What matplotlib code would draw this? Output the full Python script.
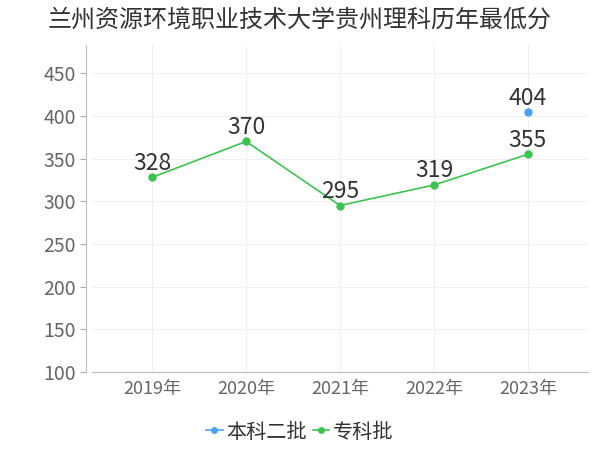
import matplotlib
matplotlib.use("Agg")
import matplotlib.pyplot as plt

years = ["2019年", "2020年", "2021年", "2022年", "2023年"]
zhuanke = [328, 370, 295, 319, 355]
benke_years = ["2023年"]
benke = [404]
yticks = [100, 150, 200, 250, 300, 350, 400, 450]
title = "兰州资源环境职业技术大学贵州理科历年最低分"

plt.rcParams['font.family'] = ['Noto Sans CJK SC', 'DejaVu Sans']

fig = plt.figure(figsize=(6, 4.5), dpi=100)
ax = fig.add_axes([92/600, 1-372/450, 496/600, 327/450])

green = "#3dc350"
blue = "#4aa3f5"

x = list(range(len(years)))
bx = [years.index(y) for y in benke_years]

ax.plot(bx, benke, color=blue, marker='o', markersize=5, lw=1.2, label="本科二批", zorder=3)
ax.plot(x, zhuanke, color=green, marker='o', markersize=5, lw=1.2, label="专科批", zorder=3)

for xi, v in zip(bx, benke):
    ax.annotate(str(v), (xi, v), xytext=(0, 2), textcoords='offset points',
                ha='center', va='bottom', fontsize=16.5, color='#333333')
for xi, v in zip(x, zhuanke):
    ax.annotate(str(v), (xi, v), xytext=(0, 2), textcoords='offset points',
                ha='center', va='bottom', fontsize=16.5, color='#333333')

ax.set_xlim(-0.64, 4.64)
ax.set_ylim(100, 483)
ax.set_yticks(yticks)
ax.set_xticks(x)
ax.set_xticklabels(years)
ax.tick_params(axis='both', colors='#aaaaaa', labelcolor='#666666', labelsize=13, length=4, width=0.8)
ax.tick_params(axis='y', labelsize=14)
ax.tick_params(axis='x', length=0, pad=6)
ax.grid(True, color='#f0f0f0', lw=0.8)
ax.set_axisbelow(True)
for s in ['top', 'right']:
    ax.spines[s].set_visible(False)
ax.spines['left'].set_color('#bbbbbb')
ax.spines['bottom'].set_color('#bbbbbb')
ax.spines['left'].set_position(('outward', 4))

fig.text(0.5, 1-20/450, title, ha='center', va='center', fontsize=17.3, color='#333333')

leg = fig.legend(loc='center', bbox_to_anchor=(0.5, 1-432/450), ncol=2, frameon=False,
                 fontsize=14.5, handlelength=0.8, handletextpad=0.2, columnspacing=0.3,
                 labelcolor='#333333', markerscale=0.8)

fig.savefig("out.png", dpi=100)
